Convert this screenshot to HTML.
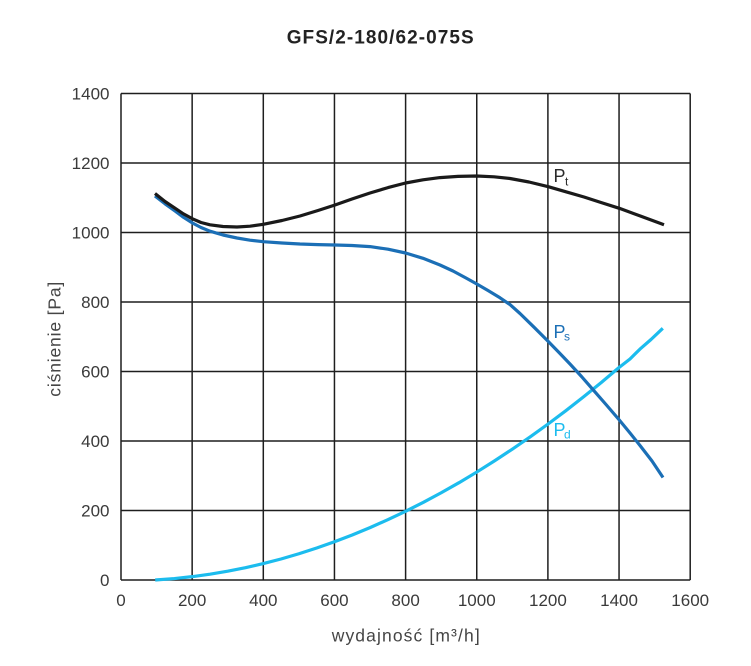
<!DOCTYPE html>
<html>
<head>
<meta charset="utf-8">
<style>
  html, body { margin: 0; padding: 0; background: #ffffff; }
  body { width: 751px; height: 666px; overflow: hidden; }
  svg { display: block; }
  text { font-family: "Liberation Sans", "DejaVu Sans", sans-serif; }
</style>
</head>
<body>
<svg width="751" height="666" viewBox="0 0 751 666" xmlns="http://www.w3.org/2000/svg">
  <rect x="0" y="0" width="751" height="666" fill="#ffffff"/>

  <!-- Title -->
  <text x="286.7" y="43.3" font-size="19" font-weight="bold" fill="#222" textLength="187" lengthAdjust="spacing">GFS/2-180/62-075S</text>

  <!-- Grid -->
  <g stroke="#1e1e1e" stroke-width="1.5" fill="none">
    <line x1="121" y1="93.5" x2="121" y2="580"/>
    <line x1="192.15" y1="93.5" x2="192.15" y2="580"/>
    <line x1="263.3" y1="93.5" x2="263.3" y2="580"/>
    <line x1="334.45" y1="93.5" x2="334.45" y2="580"/>
    <line x1="405.6" y1="93.5" x2="405.6" y2="580"/>
    <line x1="476.75" y1="93.5" x2="476.75" y2="580"/>
    <line x1="547.9" y1="93.5" x2="547.9" y2="580"/>
    <line x1="619.05" y1="93.5" x2="619.05" y2="580"/>
    <line x1="690.2" y1="93.5" x2="690.2" y2="580"/>

    <line x1="121" y1="93.5" x2="690.2" y2="93.5"/>
    <line x1="121" y1="163" x2="690.2" y2="163"/>
    <line x1="121" y1="232.5" x2="690.2" y2="232.5"/>
    <line x1="121" y1="302" x2="690.2" y2="302"/>
    <line x1="121" y1="371.5" x2="690.2" y2="371.5"/>
    <line x1="121" y1="441" x2="690.2" y2="441"/>
    <line x1="121" y1="510.5" x2="690.2" y2="510.5"/>
    <line x1="121" y1="580" x2="690.2" y2="580"/>
  </g>

  <!-- Y tick labels -->
  <g font-size="17" fill="#3a3a3a" text-anchor="end">
    <text x="109.5" y="99.5">1400</text>
    <text x="109.5" y="169">1200</text>
    <text x="109.5" y="238.5">1000</text>
    <text x="109.5" y="308">800</text>
    <text x="109.5" y="377.5">600</text>
    <text x="109.5" y="447">400</text>
    <text x="109.5" y="516.5">200</text>
    <text x="109.5" y="586">0</text>
  </g>

  <!-- X tick labels -->
  <g font-size="17" fill="#3a3a3a" text-anchor="middle">
    <text x="121" y="606">0</text>
    <text x="192.15" y="606">200</text>
    <text x="263.3" y="606">400</text>
    <text x="334.45" y="606">600</text>
    <text x="405.6" y="606">800</text>
    <text x="476.75" y="606">1000</text>
    <text x="547.9" y="606">1200</text>
    <text x="619.05" y="606">1400</text>
    <text x="690.2" y="606">1600</text>
  </g>

  <!-- Axis labels -->
  <text x="331.7" y="641.7" font-size="17.5" fill="#454545" textLength="148" lengthAdjust="spacing">wydajność [m³/h]</text>
  <text transform="translate(60.5,396.7) rotate(-90)" x="0" y="0" font-size="17.5" fill="#454545" textLength="115" lengthAdjust="spacing">ciśnienie [Pa]</text>

  <!-- Pd curve (light blue) -->
  <polyline fill="none" stroke="#1cbcee" stroke-width="3.2" stroke-linejoin="round" stroke-linecap="butt"
    points="155.2,580 174.4,578.55 192.15,576.65 210,574.2 227.7,571.2 245.5,567.7 263.3,563.57 281,559 298.9,553.77 316.7,548 334.45,541.79 352.2,535 370,527.62 387.8,519.7 405.6,511.28 423.4,502.3 441.2,492.76 459,482.7 476.75,472.06 494.5,460.9 512.3,449.18 530.1,436.9 547.9,424.13 565.7,410.8 583.5,396.89 601.3,382.5 619.05,367.48 630,359 640,349.1 651,339.5 662.8,328.3"/>

  <!-- Ps curve (medium blue) -->
  <polyline fill="none" stroke="#1b6fb6" stroke-width="3.2" stroke-linejoin="round" stroke-linecap="butt"
    points="155,196 165,203.8 175,211 183.5,217.3 192.5,223 201,227.5 210,231.2 223,235 237,238 250,240.2 263.3,241.7 282,243 300,244 318,244.6 335,245 352,245.5 370,246.6 388,249.2 405.6,253 423,258.3 440,265 453,271 466,278 476.8,284 488,290.5 500,297.8 510,304.6 520,313.5 534,327.2 548.3,341.5 559,352.5 570,364 581.5,376.5 592.7,389.3 606,404.5 619.3,420 630,433 640,445.5 652,461 663,477.5"/>

  <!-- Pt curve (black) -->
  <polyline fill="none" stroke="#1a1a1a" stroke-width="3.2" stroke-linejoin="round" stroke-linecap="butt"
    points="155,193.5 165,201.5 175,208.2 183.5,213.9 192.5,218.8 201,222.5 210,224.8 223,226.5 237,227 250,226.2 263.3,224.3 282,220.5 300,216 318,210.5 335,205 352,199 370,193 388,187.6 405.6,183 423,179.8 440,177.6 458,176.4 476.8,176 494,176.8 510,178.5 529,182 548.3,186.7 566,191.8 584,197 601,202.5 619.3,208.3 641,216.3 664,224.7"/>

  <!-- Curve labels -->
  <text x="553.5" y="182" font-size="18" fill="#2a2a2a">P</text>
  <text x="565" y="185.7" font-size="12" fill="#2a2a2a">t</text>

  <text x="553.5" y="338" font-size="18" fill="#1b6fb6">P</text>
  <text x="564" y="340.5" font-size="12" fill="#1b6fb6">s</text>

  <text x="553.5" y="436" font-size="18" fill="#1cbcee">P</text>
  <text x="564" y="438.5" font-size="12" fill="#1cbcee">d</text>
</svg>
</body>
</html>
